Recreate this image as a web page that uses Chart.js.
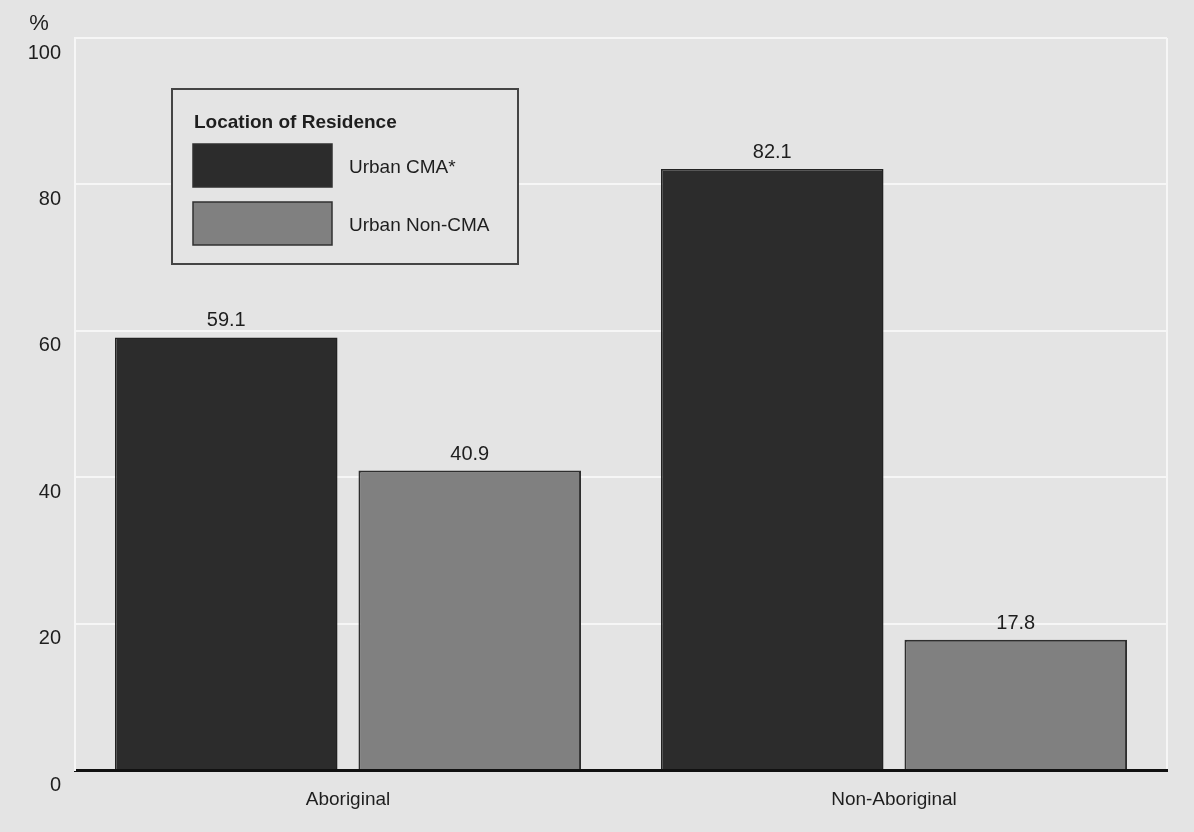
<!DOCTYPE html>
<html>
<head>
<meta charset="utf-8">
<title>Location of Residence</title>
<script src="https://cdn.jsdelivr.net/npm/chart.js@4/dist/chart.umd.min.js"></script>
<style>
  body { margin: 0; background: #e4e4e4; }
  #wrap { width: 1194px; height: 832px; }
</style>
</head>
<body>
<div id="wrap"><canvas id="Chart" width="1194" height="832"></canvas></div>
<script>
var categories = ["Aboriginal", "Non-Aboriginal"];
var cmaValues = [59.1, 82.1];
var nonCmaValues = [40.9, 17.8];
var seriesNames = ["Urban CMA*", "Urban Non-CMA"];
var yTicks = [0, 20, 40, 60, 80, 100];
var legendTitle = "Location of Residence";

var FONT = "'Liberation Sans', Arial, sans-serif";
var INK = "#1e1e1e";
var BG = "#e4e4e4";
var GRID = "#f6f6f6";

// page background + white frame round the plot area
var backdrop = {
  id: 'backdrop',
  beforeDraw: function(chart) {
    var ctx = chart.ctx;
    ctx.save();
    ctx.fillStyle = BG;
    ctx.fillRect(0, 0, chart.width, chart.height);
    var a = chart.chartArea;
    ctx.strokeStyle = GRID;
    ctx.lineWidth = 2;
    ctx.beginPath();
    ctx.moveTo(a.right, a.top);
    ctx.lineTo(a.right, a.bottom);
    ctx.stroke();
    ctx.restore();
  }
};

// value over each bar, "%" unit and the boxed legend
var annotate = {
  id: 'annotate',
  afterDatasetsDraw: function(chart) {
    var ctx = chart.ctx;
    var a = chart.chartArea;
    ctx.save();
    ctx.fillStyle = INK;
    ctx.font = "20px " + FONT;
    ctx.textAlign = "center";
    ctx.textBaseline = "alphabetic";
    chart.data.datasets.forEach(function(ds, i) {
      chart.getDatasetMeta(i).data.forEach(function(bar, j) {
        ctx.fillText(ds.data[j].toFixed(1), bar.x, bar.y - 11);
      });
    });

    ctx.font = "22px " + FONT;
    ctx.fillText("%", 39, 30);

    // legend box
    var lx = a.left + 97, ly = a.top + 51;
    ctx.fillStyle = BG;
    ctx.fillRect(lx, ly, 346, 175);
    ctx.strokeStyle = "#444";
    ctx.lineWidth = 2;
    ctx.strokeRect(lx, ly, 346, 175);

    ctx.fillStyle = INK;
    ctx.textAlign = "left";
    ctx.font = "bold 19px " + FONT;
    ctx.fillText(legendTitle, lx + 22, ly + 39);

    ctx.font = "19px " + FONT;
    chart.data.datasets.forEach(function(ds, i) {
      var sy = ly + 55 + i * 58;
      ctx.fillStyle = ds.backgroundColor;
      ctx.fillRect(lx + 21, sy, 139, 43);
      ctx.strokeStyle = "#303030";
      ctx.lineWidth = 1.5;
      ctx.strokeRect(lx + 21, sy, 139, 43);
      ctx.fillStyle = INK;
      ctx.fillText(ds.label, lx + 177, sy + 29);
    });
    ctx.restore();
  }
};

var chart = new Chart(document.getElementById("Chart"), {
  type: 'bar',
  data: {
    labels: categories,
    datasets: [{
      label: seriesNames[0],
      data: cmaValues,
      backgroundColor: "#2c2c2c",
      borderColor: "#222",
      borderWidth: 1.5,
      categoryPercentage: 0.892,
      barPercentage: 0.914
    }, {
      label: seriesNames[1],
      data: nonCmaValues,
      backgroundColor: "#808080",
      borderColor: "#2e2e2e",
      borderWidth: 2,
      categoryPercentage: 0.892,
      barPercentage: 0.914
    }]
  },
  options: {
    responsive: false,
    animation: false,
    layout: { padding: { top: 38, right: 27, left: 0, bottom: 0 } },
    plugins: {
      legend: { display: false },
      tooltip: { enabled: false }
    },
    scales: {
      x: {
        grid: { display: false, drawTicks: false },
        border: { display: true, color: "#111", width: 3 },
        ticks: {
          color: INK,
          font: { family: FONT, size: 19 },
          padding: 18
        },
        afterFit: function(scale) { scale.height = 62; }
      },
      y: {
        min: 0,
        max: 100,
        afterBuildTicks: function(scale) {
          scale.ticks = yTicks.map(function(v) { return { value: v }; });
        },
        grid: { color: GRID, lineWidth: 2, drawTicks: false },
        border: { display: true, color: GRID, width: 2 },
        ticks: {
          color: INK,
          font: { family: FONT, size: 20 },
          padding: 14,
          labelOffset: 15
        },
        afterFit: function(scale) { scale.width = 75; }
      }
    }
  },
  plugins: [backdrop, annotate]
});
</script>
</body>
</html>
